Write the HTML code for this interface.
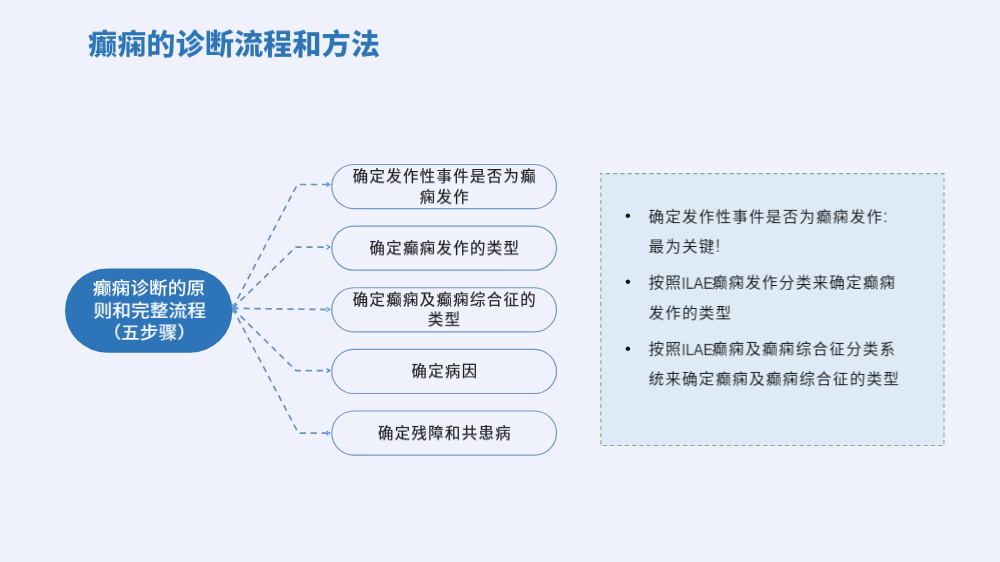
<!DOCTYPE html>
<html lang="zh-CN">
<head>
<meta charset="utf-8">
<title>癫痫的诊断流程和方法</title>
<style>
html,body{margin:0;padding:0;}
body{width:1000px;height:562px;overflow:hidden;background:#eff1fd;position:relative;
  font-family:"Liberation Sans","Noto Sans CJK SC",sans-serif;}
#slide{position:absolute;left:0;top:0;width:1000px;height:562px;overflow:hidden;background:#eff1fd;}
svg{position:absolute;left:0;top:0;}
.t{position:absolute;white-space:nowrap;margin:0;will-change:transform;--x:0px;--y:0px;}
.title{left:88px;font-size:29.2px;line-height:44px;font-weight:900;color:#2e75b6;-webkit-text-stroke:.15px #eff1fd;transform:translate(var(--x),var(--y)) scaleY(.95);transform-origin:0 50%;}
.root{left:65px;width:168px;text-align:center;color:#fff;font-size:18.75px;line-height:22px;font-weight:500;transform:translate(var(--x),var(--y)) scaleY(.9);transform-origin:50% 50%;}
.pill{left:332px;width:226px;text-align:center;color:#1f1f1f;font-size:15.4px;letter-spacing:1.36px;line-height:20px;font-weight:400;-webkit-text-stroke:.2px #1f1f1f;transform:translate(var(--x),var(--y)) scaleY(.96);transform-origin:50% 50%;}
.body{left:649px;color:#101010;font-size:15.4px;letter-spacing:1.37px;line-height:30px;font-weight:350;transform:translate(var(--x),var(--y)) scaleY(.95);transform-origin:0 50%;}
.bul{left:623px;width:10px;text-align:center;color:#111;font-size:16.67px;line-height:30px;transform:translate(var(--x),var(--y));}
.pc{font-size:18px;letter-spacing:0;line-height:1;margin-left:-0.4px;color:#3a3a3a;-webkit-text-stroke:.2px #deeaf6;}
.lat{display:inline-block;width:30.3px;margin-left:-0.5px;letter-spacing:0;font-size:16.67px;line-height:1;transform:translateY(1.05px) scaleX(.87);transform-origin:0 50%;color:#262626;-webkit-text-stroke:.12px #deeaf6;}
</style>
</head>
<body>
<div id="slide">
<svg width="1000" height="562" viewBox="0 0 1000 562">
  <defs>
    <marker id="ah" markerUnits="userSpaceOnUse" markerWidth="10" markerHeight="10" refX="6" refY="5" orient="auto-start-reverse">
      <path d="M2.9,3.2 L6,5 L2.9,6.8" fill="none" stroke="#4f93d6" stroke-width="1.1" stroke-linecap="round" stroke-linejoin="miter"/>
    </marker>
    <marker id="as" markerUnits="userSpaceOnUse" markerWidth="10" markerHeight="10" refX="6" refY="5" orient="auto-start-reverse">
      <path d="M2.4,2.9 L6,5 L2.4,7.1" fill="none" stroke="#5fa0e0" stroke-width="0.9" stroke-linecap="round" stroke-linejoin="miter" opacity=".85"/>
    </marker>
  </defs>
  <!-- right panel -->
  <rect x="600.8" y="173.6" width="343.2" height="271.9" fill="#deeaf6" stroke="#86ab88" stroke-width="1.05" stroke-dasharray="4.3 2.985" stroke-dashoffset="2.4"/>
  <!-- connectors -->
  <g fill="none" stroke="#6b92c4" stroke-width="1.7" stroke-dasharray="6.25 4.7">
    <polyline points="232.6,308.3 297.3,184.5 329.9,184.5" marker-end="url(#ah)" marker-start="url(#as)"/>
    <polyline points="232.6,308.3 295.8,247.1 329.9,247.1" marker-end="url(#ah)" marker-start="url(#as)"/>
    <polyline points="232.6,308.3 329.9,309.6" marker-end="url(#ah)" marker-start="url(#as)"/>
    <polyline points="232.6,308.3 296,370.6 329.9,370.6" marker-end="url(#ah)" marker-start="url(#as)"/>
    <polyline points="232.6,308.3 298.4,433.1 329.9,433.1" marker-end="url(#ah)" marker-start="url(#as)"/>
  </g>
  <!-- root -->
  <rect x="65" y="268.5" width="167.4" height="84.2" rx="42.1" ry="42.1" fill="#2d75b8"/>
  <!-- pills -->
  <g fill="#eff1fd" stroke="#6f98c8" stroke-width="1.2">
    <rect x="331.8" y="164.5" width="224.7" height="44.1" rx="22"/>
    <rect x="331.8" y="226.1" width="224.7" height="44.1" rx="22"/>
    <rect x="331.8" y="287.75" width="224.7" height="44.1" rx="22"/>
    <rect x="331.8" y="349.4" width="224.7" height="44.1" rx="22"/>
    <rect x="331.8" y="411" width="224.7" height="44.1" rx="22"/>
  </g>
</svg>

<h1 class="t title" style="top:22px;--x:0px;--y:0.5px">癫痫的诊断流程和方法</h1>
<div class="t root" style="top:278px">癫痫诊断的原</div>
<div class="t root" style="top:301px;--x:0.7px;--y:-0.5px">则和完整流程</div>
<div class="t root" style="top:323px;--x:0.3px;--y:-0.5px">（五步骤）</div>
<div class="t pill" style="top:166px;--x:0px;--y:0.7px">确定发作性事件是否为癫</div>
<div class="t pill" style="top:187px;--x:0px;--y:0.5px">痫发作</div>
<div class="t pill" style="top:238px;--x:0px;--y:0.6px">确定癫痫发作的类型</div>
<div class="t pill" style="top:290px;--x:0px;--y:0.1px">确定癫痫及癫痫综合征的</div>
<div class="t pill" style="top:310px;--x:-0.4px;--y:-0.1px">类型</div>
<div class="t pill" style="top:361px;--x:0px;--y:0.6px">确定病因</div>
<div class="t pill" style="top:423px;--x:0px;--y:0.6px">确定残障和共患病</div>
<div class="t bul" style="top:201px;--x:0px;--y:0.3px">•</div>
<div class="t body" style="top:202px;--x:-0.4px;--y:0.4px">确定发作性事件是否为癫痫发作<span class="pc">:</span></div>
<div class="t body" style="top:232px;--x:-0.4px;--y:0px">最为关键<span class="pc">!</span></div>
<div class="t bul" style="top:267px;--x:0px;--y:0.3px">•</div>
<div class="t body" style="top:268px;--x:-0.4px;--y:0.1px">按照<span class="lat">ILAE</span>癫痫发作分类来确定癫痫</div>
<div class="t body" style="top:298px;--x:-0.4px;--y:0.6px">发作的类型</div>
<div class="t bul" style="top:333px;--x:0px;--y:0.6px">•</div>
<div class="t body" style="top:334px;--x:-0.4px;--y:0.5px">按照<span class="lat">ILAE</span>癫痫及癫痫综合征分类系</div>
<div class="t body" style="top:364px;--x:-0.4px;--y:0.5px">统来确定癫痫及癫痫综合征的类型</div>
</div>
</body>
</html>
